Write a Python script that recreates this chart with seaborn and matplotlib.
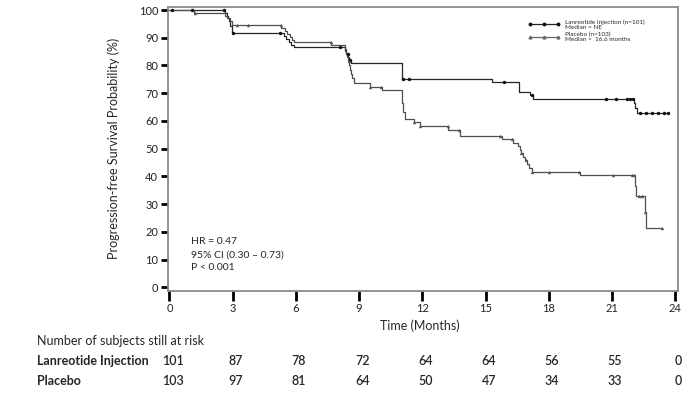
import numpy as np
import pandas as pd
import matplotlib
matplotlib.use("Agg")
import matplotlib.pyplot as plt
import matplotlib.transforms as mtransforms
from matplotlib.lines import Line2D
import seaborn as sns

# ---------------- data ----------------
lan_t = [0, 2.65, 2.72, 2.78, 2.83, 2.88, 2.95, 5.45, 5.55, 5.65, 5.78, 5.9,
         8.33, 8.4, 8.47, 8.54, 8.62, 11.02, 15.3, 16.6, 17.1, 17.27,
         22.05, 22.1, 22.18, 23.67]
lan_s = [100, 99.0, 98.0, 97.0, 96.0, 94.1, 91.6, 90.5, 89.4, 88.3, 87.4, 86.5,
         85.4, 84.3, 83.2, 82.0, 80.8, 75.2, 74.2, 70.3, 69.3, 67.9,
         66.5, 64.5, 62.8, 62.8]
lan_cens = [0.1, 1.05, 2.6, 3.0, 5.25, 8.1, 8.45, 8.58, 11.1, 11.35, 15.9, 17.2,
            20.7, 21.2, 21.7, 21.85, 22.0, 22.35, 22.6, 22.9, 23.2, 23.45, 23.67]

pla_t = [0, 1.15, 2.65, 2.75, 2.85, 2.97, 5.3, 5.5, 5.6, 5.7, 5.8, 5.9, 7.68,
         8.32, 8.38, 8.43, 8.48, 8.53, 8.58, 8.63, 8.68, 8.75, 9.5, 10.08,
         11.05, 11.1, 11.16, 11.6, 11.87, 13.22, 13.79, 15.77, 16.3,
         16.55, 16.62, 16.7, 16.78, 16.86, 16.95, 17.05, 17.2, 19.5,
         22.1, 22.15, 22.55, 22.6, 23.37]
pla_s = [100, 99.0, 98.0, 97.0, 96.0, 94.6, 93.5, 92.5, 91.4, 90.3, 89.2, 88.3, 87.4,
         85.9, 84.5, 83.0, 81.5, 80.0, 78.5, 77.0, 75.5, 73.6, 72.4, 71.2,
         66.4, 63.3, 60.6, 59.6, 58.2, 56.8, 54.4, 53.5, 52.2,
         51.0, 49.7, 48.4, 47.1, 45.8, 44.5, 43.2, 41.7, 40.4,
         36.5, 32.9, 27.2, 21.5, 21.5]
pla_cens = [1.2, 3.2, 3.75, 5.28, 7.65, 8.5, 9.5, 10.05, 11.6, 11.9, 13.2, 13.75,
            15.7, 16.25, 16.7, 16.9, 17.2, 18.0, 19.45, 21.05, 21.95, 22.05,
            22.3, 22.45, 22.55, 23.37]

x_ticks = [0, 3, 6, 9, 12, 15, 18, 21, 24]
y_ticks = [0, 10, 20, 30, 40, 50, 60, 70, 80, 90, 100]
risk_lan = [101, 87, 78, 72, 64, 64, 56, 55, 0]
risk_pla = [103, 97, 81, 64, 50, 47, 34, 33, 0]

arms = ["Lanreotide Injection", "Placebo"]
legend_labels = ["Lanreotide Injection (n=101)\nMedian = NE",
                 "Placebo (n=103)\nMedian =  16.6 months"]
stats_text = ["HR = 0.47", "95% CI (0.30 \u2013 0.73)", "P < 0.001"]

# ---------------- tables ----------------
curve = pd.concat([
    pd.DataFrame({"t": lan_t, "s": lan_s, "arm": arms[0]}),
    pd.DataFrame({"t": pla_t, "s": pla_s, "arm": arms[1]}),
], ignore_index=True)


def at(times, t, s):
    idx = np.searchsorted(np.asarray(t), np.asarray(times), side="right") - 1
    return np.asarray(s)[idx]


cens = pd.concat([
    pd.DataFrame({"t": lan_cens, "s": at(lan_cens, lan_t, lan_s), "arm": arms[0]}),
    pd.DataFrame({"t": pla_cens, "s": at(pla_cens, pla_t, pla_s), "arm": arms[1]}),
], ignore_index=True)

# ---------------- style ----------------
sns.set_style("white")
FONT = ["Lato", "DejaVu Sans"]
plt.rcParams["font.family"] = FONT

W, H = 688, 397
fig = plt.figure(figsize=(W / 100, H / 100), dpi=100)
ax = fig.add_axes([168 / W, 1 - 290.5 / H, (678.3 - 168) / W, (290.5 - 6.7) / H])

line_cols = {arms[0]: "#262626", arms[1]: "#4f4f4f"}
sns.lineplot(data=curve, x="t", y="s", hue="arm", palette=line_cols,
             drawstyle="steps-post", estimator=None, linewidth=0.9,
             legend=False, ax=ax)
sns.scatterplot(data=cens[cens.arm == arms[0]], x="t", y="s", color="#111111",
                marker="o", s=6, linewidth=0, legend=False, ax=ax, zorder=5)
sns.scatterplot(data=cens[cens.arm == arms[1]], x="t", y="s", color="#555555",
                marker="^", s=6, linewidth=0, legend=False, ax=ax, zorder=5)

ax.set_xlim(-0.07, 24.15)
ax.set_ylim(-1.15, 101.2)
ax.set_xticks(x_ticks)
ax.set_yticks(y_ticks)
ax.tick_params(axis="x", bottom=True, direction="out", length=7, width=2,
               color="black", labelsize=8, pad=2, labelcolor="#222222")
ax.tick_params(axis="y", left=True, direction="out", length=5, width=2,
               color="black", labelsize=8, pad=2, labelcolor="#222222")
for side, sp in ax.spines.items():
    sp.set_visible(True)
    sp.set_color("#8a8a8a")
    sp.set_linewidth(1.3)

ax.set_ylabel("Progression-free Survival Probability (%)", fontsize=9)
ax.yaxis.set_label_coords((120 - 168) / (678.3 - 168), 0.5)
ax.set_xlabel("Time (Months)", fontsize=9, va="center")
ax.xaxis.set_label_coords((420 - 168) / (678.3 - 168), (290.5 - 326) / (290.5 - 6.7))

# statistics text
for i, txt in enumerate(stats_text):
    ax.text(1.0, 16.6 - 4.8 * i, txt, fontsize=7.5, ha="left", va="center")

# legend
handles = [
    Line2D([], [], color=line_cols[arms[0]], lw=0.9, marker="o", ms=1.8,
           markerfacecolor="#111111", markeredgecolor="#111111"),
    Line2D([], [], color="#666666", lw=0.9, marker="^", ms=2.0,
           markerfacecolor="#666666", markeredgecolor="#666666"),
]
ax.legend(handles, legend_labels, loc="upper left",
          bbox_to_anchor=(528 / W, 1 - 19 / H), bbox_transform=fig.transFigure,
          frameon=False, fontsize=4.6, numpoints=3, handlelength=5.0,
          handletextpad=0.8, labelspacing=0.15, borderpad=0, borderaxespad=0)

# number at risk table
blend = mtransforms.blended_transform_factory(ax.transData, fig.transFigure)
fig.text(37 / W, 1 - 341 / H, "Number of subjects still at risk", fontsize=9,
         ha="left", va="center")
rows = [(arms[0], risk_lan, 361), (arms[1], risk_pla, 381)]
for name, vals, ypx in rows:
    fig.text(37 / W, 1 - ypx / H, name, fontsize=9, fontweight="bold",
             ha="left", va="center")
    for xt, v in zip(x_ticks, vals):
        ax.text(xt + 0.15, 1 - ypx / H, str(v), transform=blend, fontsize=9,
                fontweight="semibold", ha="center", va="center", clip_on=False)

fig.savefig("out.png", dpi=100)
